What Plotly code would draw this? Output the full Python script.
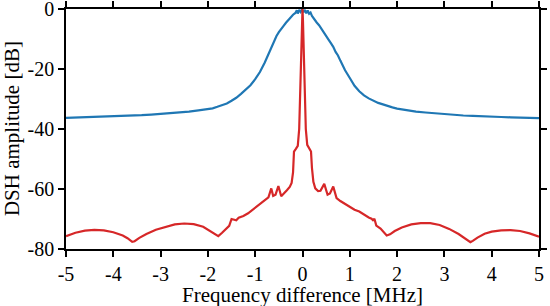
import plotly.graph_objects as go

blue_f = [-5.0, -4.8, -4.6, -4.4, -4.2, -4.0, -3.8, -3.6, -3.4, -3.2, -3.0, -2.8, -2.6, -2.4, -2.2, -2.0,
          -1.9, -1.8, -1.7, -1.6, -1.5, -1.4, -1.3, -1.2, -1.1, -1.0, -0.9, -0.8, -0.75, -0.7, -0.65,
          -0.6, -0.55, -0.5, -0.45, -0.4, -0.35, -0.3, -0.25, -0.2, -0.15, -0.12, -0.1, -0.07, -0.04,
          -0.01, 0.02, 0.05, 0.08, 0.11, 0.14, 0.17, 0.2, 0.25, 0.3, 0.35, 0.4, 0.45, 0.5, 0.55, 0.6,
          0.65, 0.7, 0.75, 0.8, 0.85, 0.9, 1.0, 1.1, 1.2, 1.3, 1.4, 1.5, 1.6, 1.7, 1.8, 1.9, 2.0, 2.2,
          2.4, 2.6, 2.8, 3.0, 3.2, 3.4, 3.6, 3.8, 4.0, 4.2, 4.4, 4.6, 4.8, 5.0]
blue_db = [-36.3, -36.2, -36.1, -36.1, -35.9, -35.9, -35.7, -35.6, -35.4, -35.2, -35.0, -34.8, -34.5, -34.2, -33.8, -33.4,
           -33.1, -32.6, -32.1, -31.5, -30.6, -29.6, -28.3, -26.9, -25.4, -23.4, -21.0, -17.9, -16.1, -13.8, -12.0,
           -10.5, -9.0, -7.7, -6.8, -5.6, -4.6, -3.6, -2.9, -1.9, -1.3, -0.4, -1.5, -0.3, -1.0,
           -0.2, -1.1, -0.3, -1.4, -0.5, -1.6, -1.2, -2.3, -3.5, -4.5, -5.4, -6.5, -7.6, -8.8, -10.2, -11.4,
           -12.6, -14.3, -15.5, -17.2, -18.9, -20.4, -23.0, -25.6, -27.4, -28.8, -29.8, -30.6, -31.3, -31.8, -32.4, -32.8, -33.2, -33.8,
           -34.2, -34.5, -34.8, -35.1, -35.3, -35.5, -35.6, -35.8, -35.9, -36.0, -36.1, -36.2, -36.3, -36.4]

red_f = [-5.0, -4.8, -4.6, -4.4, -4.2, -4.0, -3.8, -3.7, -3.6, -3.55, -3.45, -3.3, -3.1, -2.9, -2.7, -2.5,
         -2.3, -2.1, -2.0, -1.9, -1.78, -1.7, -1.6, -1.55, -1.5, -1.45, -1.4, -1.35, -1.25, -1.15, -1.05,
         -1.0, -0.95, -0.9, -0.8, -0.72, -0.66, -0.62, -0.57, -0.51, -0.45, -0.38, -0.33, -0.27, -0.23,
         -0.2, -0.18, -0.14, -0.1, -0.07, -0.05, -0.03, -0.01, 0.0, 0.01, 0.03, 0.05, 0.07, 0.1, 0.14,
         0.18, 0.2, 0.23, 0.27, 0.33, 0.38, 0.46, 0.53, 0.58, 0.65, 0.72, 0.8, 0.9, 1.0, 1.1, 1.2, 1.3,
         1.4, 1.46, 1.49, 1.52, 1.56, 1.65, 1.72, 1.78, 1.85, 1.95, 2.1, 2.3, 2.5, 2.7, 2.9, 3.1, 3.3,
         3.45, 3.55, 3.6, 3.7, 3.85, 4.0, 4.2, 4.4, 4.6, 4.8, 5.0]
red_db = [-75.7, -74.6, -73.9, -73.6, -73.8, -74.4, -75.5, -76.4, -77.6, -77.4, -76.3, -75.0, -73.6, -72.6, -71.8, -71.5,
          -71.7, -72.6, -73.5, -74.6, -75.7, -74.6, -73.2, -72.3, -70.0, -70.2, -70.4, -69.6, -69.0, -68.1, -66.9,
          -66.2, -65.8, -64.9, -64.0, -62.8, -59.8, -62.3, -61.9, -59.0, -62.4, -61.0, -60.4, -59.3, -58.0,
          -54.5, -47.5, -46.6, -45.6, -40.0, -30.0, -18.0, -4.0, 0.0, -4.0, -18.0, -30.0, -40.0, -45.3, -46.4,
          -47.5, -53.0, -57.6, -59.8, -60.7, -60.6, -58.3, -61.9, -61.5, -59.2, -63.0, -64.0, -65.0, -66.0, -66.9, -67.5, -68.6,
          -69.5, -69.9, -70.4, -69.9, -72.2, -73.2, -74.6, -75.5, -75.1, -74.0, -72.8, -71.8, -71.4, -71.4, -72.0, -73.3, -75.0,
          -76.5, -77.7, -77.3, -76.2, -74.9, -74.2, -73.8, -73.7, -74.0, -74.8, -75.9]

x_ticks = [-5, -4, -3, -2, -1, 0, 1, 2, 3, 4, 5]
y_ticks = [0, -20, -40, -60, -80]
x_title = "Frequency difference [MHz]"
y_title = "DSH amplitude [dB]"

FONT = "Liberation Serif"

fig = go.Figure()
fig.add_trace(go.Scatter(x=blue_f, y=blue_db, mode="lines",
                         line=dict(color="#1f77b4", width=2.2), showlegend=False))
fig.add_trace(go.Scatter(x=red_f, y=red_db, mode="lines",
                         line=dict(color="#d62728", width=2.2), showlegend=False))

axis_common = dict(showgrid=False, zeroline=False, showline=True, linecolor="black", linewidth=1.5,
                   mirror="ticks", ticks="outside", ticklen=6, tickwidth=1.5, tickcolor="black",
                   automargin=False, ticklabeloverflow="allow",
                   tickfont=dict(family=FONT, size=20, color="black"))

fig.update_xaxes(range=[-5, 5], tickvals=x_ticks, ticktext=[str(v) for v in x_ticks], **axis_common)
fig.update_yaxes(range=[-80, 0], tickvals=y_ticks, ticktext=[str(v) for v in y_ticks], **axis_common)

fig.add_annotation(text=x_title, xref="paper", yref="paper", x=0.5, y=-0.192,
                   xanchor="center", yanchor="middle", showarrow=False,
                   font=dict(family=FONT, size=21, color="black"))
fig.add_annotation(text=y_title, xref="paper", yref="paper", x=-0.114, y=0.5,
                   xanchor="center", yanchor="middle", textangle=-90, showarrow=False,
                   font=dict(family=FONT, size=21, color="black"))

fig.update_layout(width=550, height=306, margin=dict(l=66, r=11, t=9, b=57),
                  plot_bgcolor="white", paper_bgcolor="white")

fig.write_html("out.html", config={"displayModeBar": False},
               post_script="document.body.style.margin='0';document.body.style.overflow='hidden';")
